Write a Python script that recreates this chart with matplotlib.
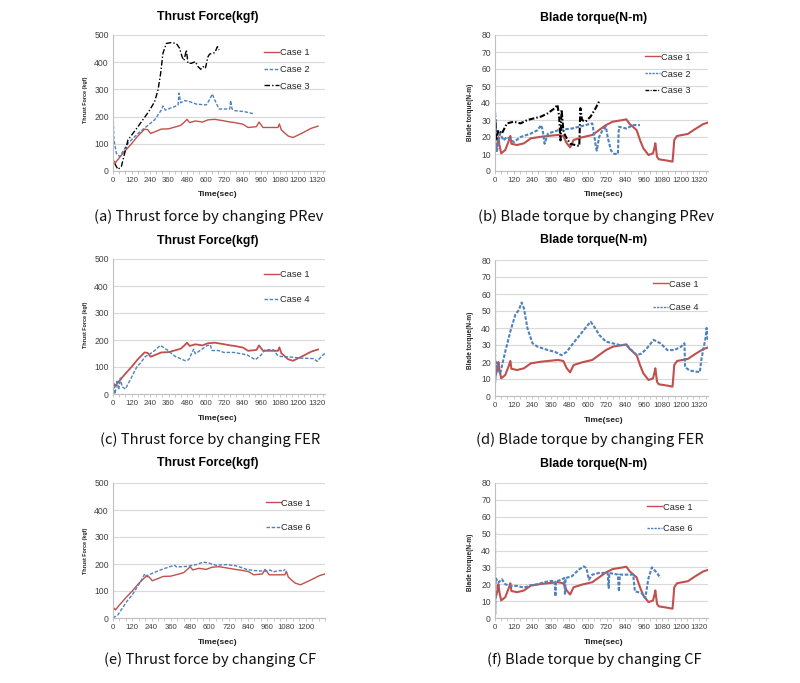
import matplotlib
matplotlib.use('Agg')
import matplotlib.pyplot as plt
from matplotlib.ticker import MultipleLocator

RED = '#c0504d'
BLUE = '#4f81bd'
BLACK = '#000000'

# ---------------- Thrust force data (kgf) ----------------
c1_thr_t = [0, 8, 15, 40, 80, 120, 160, 205, 225, 244, 280, 313, 360, 411, 440, 465, 480, 497,
            534, 580, 616, 660, 713, 760, 789, 843, 876, 930, 947, 973, 1070, 1079, 1092, 1135,
            1167, 1222, 1286, 1330]
c1_thr_v = [28, 36, 30, 48, 75, 100, 128, 154, 152, 138, 146, 154, 155, 163, 168, 181, 190, 178,
            184, 180, 188, 190, 185, 180, 178, 172, 160, 163, 180, 160, 160, 173, 151, 129,
            123, 138, 157, 165]

c2_thr_t = [0, 6, 22, 43, 97, 162, 216, 270, 313, 324, 339, 400, 422, 428, 439, 465, 497, 540,
            605, 627, 644, 660, 688, 757, 763, 772, 789, 854, 915]
c2_thr_v = [224, 114, 65, 53, 102, 138, 163, 188, 224, 239, 224, 237, 243, 286, 251, 259, 255, 246,
            243, 263, 283, 261, 228, 228, 259, 228, 222, 218, 210]

c3_thr_t = [11, 32, 54, 97, 162, 216, 238, 270, 292, 309, 324, 346, 378, 411, 432, 448, 460, 476,
            486, 508, 534, 551, 569, 584, 599, 616, 627, 660, 677, 688]
c3_thr_v = [28, 6, 16, 114, 163, 206, 224, 255, 298, 359, 433, 469, 472, 469, 451, 420, 406, 445,
            396, 396, 402, 384, 374, 384, 377, 420, 430, 435, 457, 445]

c4_thr_t = [0, 5, 12, 26, 37, 48, 58, 80, 112, 156, 177, 210, 231, 264, 307, 350, 404, 469, 491,
            523, 534, 610, 631, 642, 685, 718, 783, 869, 923, 956, 988, 1042, 1064, 1086, 1151,
            1216, 1302, 1324, 1356, 1377]
c4_thr_v = [28, 40, 0, 47, 16, 59, 28, 18, 53, 102, 114, 139, 145, 158, 180, 164, 139, 123, 127,
            166, 149, 179, 182, 161, 161, 154, 154, 145, 127, 142, 164, 164, 145, 139, 137,
            133, 131, 121, 142, 151]

c6_thr_t = [0, 10, 31, 83, 125, 177, 198, 208, 239, 291, 353, 385, 395, 457, 520, 561, 593, 644,
            707, 769, 832, 873, 956, 977, 998, 1040, 1060, 1071]
c6_thr_v = [0, 4, 12, 59, 90, 140, 164, 156, 164, 177, 190, 195, 189, 191, 198, 207, 204, 195,
            198, 193, 180, 176, 173, 178, 171, 176, 173, 181]

# ---------------- Blade torque data (N-m) ----------------
c1_trq_t = [0, 4, 16, 22, 29, 40, 66, 90, 99, 106, 143, 187, 231, 300, 341, 407, 441, 463, 485,
            507, 562, 628, 672, 716, 760, 826, 848, 870, 914, 936, 958, 991, 1020, 1030, 1035,
            1046, 1057, 1113, 1146, 1152, 1157, 1175, 1245, 1289, 1344, 1375]
c1_trq_v = [17, 12, 16, 20, 15, 10.4, 12.3, 18, 20.6, 16, 15.3, 16.3, 19.2, 20.2, 20.6, 21.2,
            20.6, 16.3, 13.9, 18.2, 19.8, 21.2, 24.1, 27, 29, 30, 30.4, 27.6, 24.1, 18.2, 13.3,
            9.4, 10.4, 14, 16.3, 8.4, 6.9, 6.1, 5.5, 12, 18.2, 20.6, 21.8, 24.5, 27.6, 28.5]

c2_trq_t = [0, 4, 11, 33, 55, 77, 121, 165, 231, 275, 297, 308, 320, 342, 408, 496, 540, 584,
            628, 639, 650, 657, 672, 694, 716, 727, 749, 771, 793, 800, 848, 892, 936]
c2_trq_v = [22, 30, 11, 22, 18, 20, 17, 20, 22, 24, 27, 24, 16, 22, 24, 25, 26, 27,
            28, 22, 15, 12, 20, 24, 26, 20, 12, 10, 10, 26, 25, 27, 27]

c3_trq_t = [0, 7, 22, 44, 77, 121, 165, 209, 253, 297, 342, 386, 403, 414, 423, 430, 441, 452,
            485, 544, 551, 562, 584, 617, 650, 672]
c3_trq_v = [35, 18, 24, 22, 28, 29, 28, 30, 31, 32, 34, 37, 39, 32, 18, 36, 24, 21,
            16, 14.7, 37, 30, 29, 32, 37, 41]

c4_trq_t = [0, 1, 7, 22, 33, 66, 99, 132, 154, 172, 187, 209, 242, 275, 342, 386, 430, 463, 496,
            540, 584, 617, 639, 672, 716, 760, 804, 848, 881, 914, 947, 980, 1024, 1068, 1113,
            1157, 1201, 1223, 1227, 1256, 1322, 1333, 1344, 1359, 1366, 1375]
c4_trq_v = [55.5, 8, 20, 16, 13, 26, 38, 48, 50.6, 55, 51.5, 40, 31, 29, 27, 26, 24, 26, 30,
            35, 40, 43.7, 41, 36, 32, 31, 30, 30, 27, 24, 25, 28, 33, 31, 27,
            27, 29, 31, 17, 15, 14, 22, 27, 34, 40, 32]

c6_trq_t = [0, 1, 4, 22, 44, 66, 99, 143, 187, 231, 275, 320, 364, 386, 390, 394, 430, 447, 452,
            456, 496, 540, 573, 590, 606, 628, 672, 727, 734, 738, 793, 800, 806, 892, 903, 947,
            970, 991, 1013, 1046, 1068]
c6_trq_v = [67, 2, 23.7, 21, 23, 20, 19, 19, 18, 19.4, 20, 21.3, 22, 21.7, 12.8, 21.7, 22.7, 23.7,
            13.8, 23.7, 24.7, 28.6, 30.6, 29.6, 22.7, 25.7, 26.7, 26.7, 17.8, 26.7, 25.7, 15.8,
            25.7, 25.7, 15.8, 14.8, 11.8, 23.7, 30, 26.7, 23.7]

xticks_full = list(range(0, 1321, 120))
xticks_e = list(range(0, 1201, 120))

captions = ['(a) Thrust force by changing PRev', '(b) Blade torque by changing PRev',
            '(c) Thrust force by changing FER', '(d) Blade torque by changing FER',
            '(e) Thrust force by changing CF', '(f) Blade torque by changing CF']

W, H = 800, 683
fig = plt.figure(figsize=(W / 100, H / 100), dpi=100)

TICKFONT = 'Liberation Sans'
CAPFONT = ['Noto Sans CJK KR', 'DejaVu Sans']

def px_axes(x0, x1, ytop, ybot):
    return fig.add_axes([x0 / W, 1 - ybot / H, (x1 - x0) / W, (ybot - ytop) / H])

def style(ax, ymax, ystep, xmax, xticks):
    ax.set_xlim(0, xmax)
    ax.set_ylim(0, ymax)
    ax.set_yticks(range(0, ymax + 1, ystep))
    ax.set_xticks(xticks)
    ax.xaxis.set_minor_locator(MultipleLocator(40))
    ax.grid(axis='y', color='#d9d9d9', lw=0.8)
    ax.set_axisbelow(True)
    for s in ['top', 'right']:
        ax.spines[s].set_visible(False)
    for s in ['left', 'bottom']:
        ax.spines[s].set_color('#bfbfbf')
        ax.spines[s].set_linewidth(0.8)
    ax.tick_params(axis='both', which='both', colors='#bfbfbf', labelcolor='#404040',
                   length=2.5, width=0.6, pad=1.5)
    ax.tick_params(axis='x', labelsize=5.6)
    ax.tick_params(axis='y', which='both', length=0, pad=3, labelsize=6.2)
    ax.tick_params(axis='x', which='minor', length=2)
    for lab in ax.get_xticklabels() + ax.get_yticklabels():
        lab.set_fontfamily(TICKFONT)

def legend(ax, x, ytop, spacing):
    leg = ax.legend(loc='upper left', bbox_to_anchor=(x, ytop), frameon=False,
                    prop={'family': TICKFONT, 'size': 6.7}, handlelength=1.6, handletextpad=0.1,
                    labelspacing=spacing, borderpad=0, borderaxespad=0, labelcolor='#262626')
    for ln in leg.get_lines():
        ln.set_linewidth(1.0)

def texts(cx, title, ty, xl_y, ylab, ylab_x, ylab_y, ylab_size):
    fig.text(cx / W, 1 - ty / H, title, ha='center', va='center', fontsize=8.8,
             fontweight='bold', family=TICKFONT, color='#000000')
    fig.text((cx + 10) / W, 1 - xl_y / H, 'Time(sec)', ha='center', va='center', fontsize=6,
             fontweight='bold', family=TICKFONT, color='#222222')
    fig.text(ylab_x / W, 1 - ylab_y / H, ylab, ha='center', va='center', rotation=90,
             fontsize=ylab_size, fontweight='bold', family=TICKFONT, color='#222222')

lw_t = 1.0
lw_q = 1.5
dash2 = (0, (2.5, 1.2))
dash2q = (0, (1.7, 0.8))
dashdot3 = (0, (4, 1.5, 1, 1.5))
dashdot3q = (0, (2.7, 1.0, 0.7, 1.0))

# (a)
ax = px_axes(113, 325, 35, 171)
ax.plot(c1_thr_t, c1_thr_v, color=RED, lw=lw_t, label='Case 1')
ax.plot(c2_thr_t, c2_thr_v, color=BLUE, lw=lw_t, ls=dash2, label='Case 2')
ax.plot(c3_thr_t, c3_thr_v, color=BLACK, lw=lw_t, ls=dashdot3, label='Case 3')
style(ax, 500, 100, 1375, xticks_full)
legend(ax, 0.712, 0.905, 0.85)
texts(208, 'Thrust Force(kgf)', 17, 195, 'Thrust Force (kgf)', 85, 100, 3.9)

# (b)
ax = px_axes(495, 708, 35, 171)
ax.plot(c1_trq_t, c1_trq_v, color=RED, lw=lw_q, label='Case 1')
ax.plot(c2_trq_t, c2_trq_v, color=BLUE, lw=lw_q, ls=dash2q, label='Case 2')
ax.plot(c3_trq_t, c3_trq_v, color=BLACK, lw=lw_q, ls=dashdot3q, label='Case 3')
style(ax, 80, 10, 1375, xticks_full)
legend(ax, 0.704, 0.87, 0.85)
texts(594, 'Blade torque(N-m)', 18, 195, 'Blade torque(N-m)', 470, 112, 4.7)

# (c)
ax = px_axes(113, 325, 259, 394)
ax.plot(c1_thr_t, c1_thr_v, color=RED, lw=1.3, label='Case 1')
ax.plot(c4_thr_t, c4_thr_v, color=BLUE, lw=lw_t, ls=dash2, label='Case 4')
style(ax, 500, 100, 1375, xticks_full)
legend(ax, 0.712, 0.92, 1.75)
texts(208, 'Thrust Force(kgf)', 241, 419, 'Thrust Force (kgf)', 85, 325, 3.9)

# (d)
ax = px_axes(495, 708, 260, 396)
ax.plot(c1_trq_t, c1_trq_v, color=RED, lw=lw_q, label='Case 1')
ax.plot(c4_trq_t, c4_trq_v, color=BLUE, lw=lw_q, ls=dash2q, label='Case 4')
style(ax, 80, 10, 1375, xticks_full)
legend(ax, 0.742, 0.855, 1.55)
texts(594, 'Blade torque(N-m)', 240, 420, 'Blade torque(N-m)', 470, 340, 4.7)

# (e)
ax = px_axes(113, 325, 483, 618)
ax.plot(c1_thr_t, c1_thr_v, color=RED, lw=lw_t, label='Case 1')
ax.plot(c6_thr_t, c6_thr_v, color=BLUE, lw=lw_t, ls=dash2, label='Case 6')
style(ax, 500, 100, 1320, xticks_e)
legend(ax, 0.72, 0.885, 1.65)
texts(208, 'Thrust Force(kgf)', 463, 643, 'Thrust Force (kgf)', 85, 551, 3.9)

# (f)
ax = px_axes(495, 708, 483, 618)
ax.plot(c1_trq_t, c1_trq_v, color=RED, lw=lw_q, label='Case 1')
ax.plot(c6_trq_t, c6_trq_v, color=BLUE, lw=lw_q, ls=dash2q, label='Case 6')
style(ax, 80, 10, 1375, xticks_full)
legend(ax, 0.714, 0.855, 1.35)
texts(594, 'Blade torque(N-m)', 464, 643, 'Blade torque(N-m)', 470, 562, 4.7)

# captions
cap_pos = [(209, 217), (596, 217), (210, 440), (590, 440), (210, 660), (594, 660)]
for (cx, cy), cap in zip(cap_pos, captions):
    fig.text(cx / W, 1 - cy / H, cap, ha='center', va='center', fontsize=10.6,
             family=CAPFONT, fontweight='light', color='#111111')

fig.savefig('out.png', dpi=100, facecolor='white')
